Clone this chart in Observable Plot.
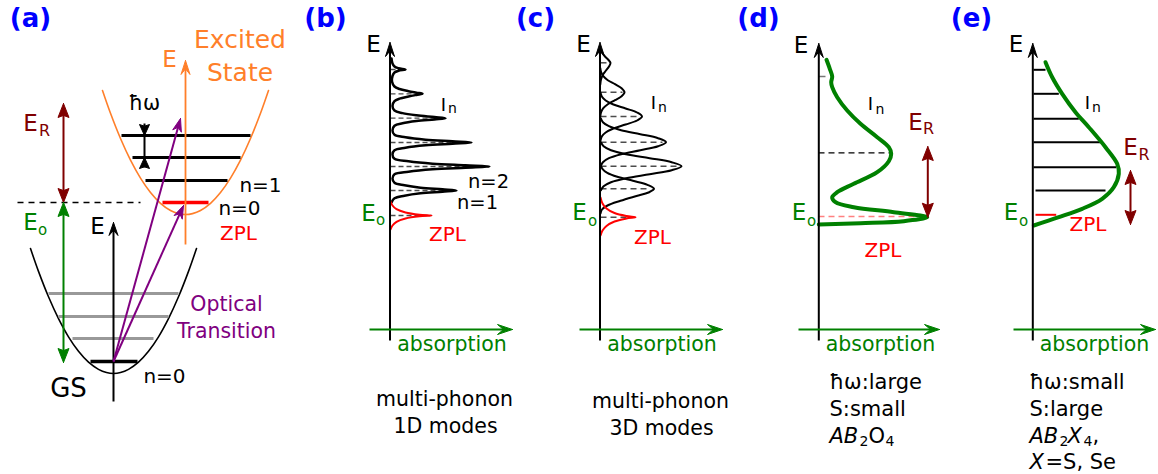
<!DOCTYPE html>
<html><head><meta charset="utf-8">
<script src="https://cdn.jsdelivr.net/npm/d3@7"></script>
<script src="https://cdn.jsdelivr.net/npm/@observablehq/plot@0.6"></script>
<style>
html,body{margin:0;padding:0;background:#fff;}
#chart svg{display:block;}
</style></head><body><div id="chart"></div>
<script>
// ================= DATA (figure coordinates) =================
const panelLabels = ["(a)", "(b)", "(c)", "(d)", "(e)"];
const panelLabelX = [30, 325, 535, 758, 971];

// (a) configuration-coordinate diagram
const excitedParabola = [[102,90],[110,112.8],[120,138],[130,159.6],[140,177.6],[150,192],[160,202.8],[170,210],[178,213.1],[185,214],[192,213.1],[200,210],[210,202.8],[220,192],[230,177.6],[240,159.6],[250,138],[260,112.8],[268,90]];
const groundParabola = [[30,248],[38,270.9],[48,296.3],[58,318.1],[68,336.3],[78,350.8],[88,361.7],[98,368.9],[106,372.1],[113,373],[120,372.1],[128,368.9],[138,361.7],[148,350.8],[158,336.3],[168,318.1],[178,296.3],[188,270.9],[196,248]];
const excitedLevels = [[121,250,135],[132,240,157],[145,227,180]];      // [xStart, xEnd, energy]
const excitedZPL = [[162,208,202]];
const groundLevels = [[48,178,293],[58,168,316],[72,153,338]];
const groundN0 = [[90,137,361]];
const eoDashed = [[17,140,202]];

// (b) multi-phonon, 1D modes
const bCurve = [[391,58],[392,63],[394,66],[398,67.7],[405,69],[398,70.3],[394,72],[392,75.5],[391.5,81],
 [394,86],[399,88.5],[408,90.7],[416,92.2],[422,93.3],[416,94.4],[408,96],[399,98.2],[394,100.7],[392,105.5],
 [394,110],[402,112.6],[416,114.8],[434,116.5],[445,117.7],[434,118.9],[416,120.6],[402,122.8],[394,125.3],[392,130],
 [394,134.3],[405,136.8],[425,139.2],[452,140.8],[471,142],[452,143.2],[425,144.8],[405,147.2],[394,149.8],[392,154],
 [394,158.3],[408,160.8],[432,163.2],[465,164.8],[489,166],[465,167.2],[432,168.8],[408,171.2],[394,173.8],[392,178],
 [394,182.3],[404,184.8],[420,187.2],[442,188.8],[456,190],[442,191.2],[420,192.8],[404,195.2],[394,197.8],[391,202]];
const bZPL = [[390,201],[392,205],[396,208.7],[405,212],[419,214.2],[431,215],[419,215.8],[405,218],[396,221.3],[392,225],[390,229]];
const bPeakE = [69, 93.3, 117.7, 142, 166, 190, 215];
const bPeakI = [405, 422, 445, 471, 489, 456, 431];

// (c) multi-phonon, 3D modes (one broad lobe per phonon number)
const cLobes = [
 [[600,48],[601.5,52],[604.5,56],[608,59.5],[610,62.3],[608.5,66],[605.5,70],[602.5,74],[600.5,79],[599.8,84]],
 [[599.8,67.7],[600.6,71.7],[602.8,75.7],[607.3,79.7],[614.5,83.7],[621.1,87.7],[624,91.7],[621.1,95.7],[614.5,99.7],[607.3,103.7],[602.8,107.7],[600.6,111.7],[599.8,115.7]],
 [[600,92],[601.3,96],[605.2,100],[612.9,104],[625.1,108],[636.5,112],[641.5,116],[636.5,120],[625.1,124],[612.9,128],[605.2,132],[601.3,136],[600,140]],
 [[600.2,117.7],[602.4,121.7],[608.4,125.7],[620.6,129.7],[639.8,133.7],[657.6,137.7],[665.5,141.7],[657.6,145.7],[639.8,149.7],[620.6,153.7],[608.4,157.7],[602.4,161.7],[600.2,165.7]],
 [[600.4,141.7],[603.1,145.7],[610.5,149.7],[625.6,153.7],[649.2,157.7],[671.2,161.7],[681,165.7],[671.2,169.7],[649.2,173.7],[625.6,177.7],[610.5,181.7],[603.1,185.7],[600.4,189.7]],
 [[600.1,164.3],[601.9,168.3],[606.8,172.3],[616.8,176.3],[632.4,180.3],[647,184.3],[653.5,188.3],[648,192],[636,195.5],[620,200.3],[607,205],[601.5,209],[600,213]]
];
const cZPL = [[600,197],[602,203],[606,208],[614,212.5],[626,215.5],[635,216.7],[626,218],[614,221],[606,225.5],[602,230],[600,235]];
const cPeakE = [62.3, 91.7, 116, 141.7, 165.7, 188.3, 216.7];
const cPeakI = [610, 622, 638, 662, 678, 648, 627];

// (d) large ħω, small S
const dCurve = [[826,59.3],[829.3,68.3],[831.7,76],[830.7,81.7],[831.7,86.7],[836.7,96.7],[846.7,110],[860,123.3],[876.7,136.7],[888.3,146.7],[890.7,153.3],[888.3,160.7],[876.7,171.7],[853.3,183.3],[836.7,191.7],[831.7,196.7],[835,201.7],[853.3,206.7],[893.3,211.7],[926.7,216.7],[903.3,220.7],[860,222.7],[818.3,224]];

// (e) small ħω, large S
const eCurve = [[1045,61.7],[1051.7,76.7],[1061.7,93.3],[1075,111.7],[1088.3,126.7],[1105,146.7],[1116.7,163.3],[1118.3,173.3],[1113.3,186.7],[1101.7,198.3],[1081.7,208.3],[1058.3,216.7],[1033.3,225]];
const eLevels = [[1033,1045,69.3],[1033,1058.3,93.3],[1033,1078.3,118.3],[1033,1100,141.7],[1033,1115.7,166.7],[1035,1105,190]];
const eZPL = [[1035,1055.7,214.3]];

// arrows: start -> end, with heads at end (or both)
const arrows = [
 {x1:185,y1:244,x2:185,y2:60,c:"orange",sw:1.8,both:false,L:14,w:4.5,n:0.6},
 {x1:113,y1:401,x2:113,y2:222,c:"black",sw:2,both:false,L:13,w:4.5,n:0.6},
 {x1:63,y1:103,x2:63,y2:202,c:"darkred",sw:2,both:true,L:14,w:5.5,n:0.85},
 {x1:63,y1:202,x2:63,y2:362,c:"green",sw:2,both:true,L:14,w:5.5,n:0.85},
 {x1:144,y1:123,x2:144,y2:135,c:"black",sw:2,both:false,L:11,w:5,n:0.85},
 {x1:144,y1:167,x2:144,y2:157,c:"black",sw:2,both:false,L:11,w:5,n:0.85},
 {x1:113,y1:361,x2:180,y2:118,c:"purple",sw:2,both:false,L:13,w:4.5,n:0.7},
 {x1:113,y1:361,x2:183,y2:205,c:"purple",sw:2,both:false,L:13,w:4.5,n:0.7},
 {x1:389.5,y1:340,x2:389.5,y2:42,c:"black",sw:2,both:false,L:14,w:4.5,n:0.6},
 {x1:599.5,y1:340,x2:599.5,y2:42,c:"black",sw:2,both:false,L:14,w:4.5,n:0.6},
 {x1:818.3,y1:340,x2:818.3,y2:43,c:"black",sw:2,both:false,L:14,w:4.5,n:0.6},
 {x1:1032.3,y1:340,x2:1032.3,y2:43,c:"black",sw:2,both:false,L:14,w:4.5,n:0.6},
 {x1:369,y1:329,x2:512,y2:329,c:"green",sw:2,both:false,L:15,w:5,n:0.6},
 {x1:579,y1:329,x2:722,y2:329,c:"green",sw:2,both:false,L:15,w:5,n:0.6},
 {x1:798,y1:329,x2:939,y2:329,c:"green",sw:2,both:false,L:15,w:5,n:0.6},
 {x1:1013,y1:329,x2:1155,y2:329,c:"green",sw:2,both:false,L:15,w:5,n:0.6},
 {x1:927.3,y1:146,x2:927.3,y2:216.7,c:"darkred",sw:2,both:true,L:14,w:5.5,n:0.85},
 {x1:1130,y1:170,x2:1130,y2:224,c:"darkred",sw:2,both:true,L:14,w:5.5,n:0.85}
];
const hbarOmegaShaft = [[144,135,144,157]];

// text labels: [text, x, y, colour, size]
const labels = [
 ["E",169,59,"orange",23],["Excited",239.5,39,"orange",25],["State",239.5,72.5,"orange",25],
 ["ħω",144,103,"black",20.5],["n=1",260,185,"black",20],["n=0",239,208,"black",20],["ZPL",238,233,"red",20],
 ["E",30,123,"darkred",23],["R",44,130,"darkred",16],["E",30,222,"green",23],["o",42,229.5,"green",15],
 ["E",97,226,"black",23],["GS",68,388,"black",26],["n=0",164,376,"black",20],
 ["Optical",226,304,"purple",20.5],["Transition",226,331,"purple",20.5],
 ["E",373,44,"black",23],["I",443,104.5,"black",18],["n",452,108.5,"black",14],
 ["n=2",488,181.5,"black",19.5],["n=1",477,202,"black",19.5],
 ["E",368,213,"green",23],["o",380,219.5,"green",15],["ZPL",447,234,"red",20],
 ["absorption",451.5,344,"green",20.5],["multi-phonon",444,399,"black",20.5],["1D modes",445,425.5,"black",20.5],
 ["E",583,44,"black",23],["I",653,103,"black",18],["n",662,107.5,"black",14],
 ["E",579,212.5,"green",23],["o",592,220.5,"green",15],["ZPL",652,237,"red",20],
 ["absorption",661.5,344,"green",20.5],["multi-phonon",660,401,"black",20.5],["3D modes",661,428,"black",20.5],
 ["E",800.5,45,"black",23],["I",870,104,"black",18],["n",879.5,109,"black",14],
 ["E",915,122,"darkred",23],["R",928,128.5,"darkred",16],
 ["E",798.5,212,"green",23],["o",811,221,"green",15],["ZPL",882.5,250,"red",20],
 ["absorption",880,344,"green",20.5],
 ["E",1015.5,44.5,"black",23],["I",1087,102.5,"black",18],["n",1096,107.5,"black",14],
 ["E",1130,147,"darkred",23],["R",1143.5,154,"darkred",16],
 ["E",1010.5,212,"green",23],["o",1023,220.5,"green",15],["ZPL",1087.5,224,"red",20],
 ["absorption",1094,344,"green",20.5]
];
// notes under (d) and (e): [text, x, y, style, size]
const notes = [
 ["ħω:large",829,382,"normal",21],["S:small",829,408.5,"normal",21],
 ["AB",829,435.5,"italic",21],["2",859,441.5,"normal",14],["O",868,435.5,"normal",21],["4",885,441.5,"normal",14],
 ["ħω:small",1029,382,"normal",21],["S:large",1029,408.5,"normal",21],
 ["AB",1029,435.5,"italic",21],["2",1059,441.5,"normal",14],["X",1067,435.5,"italic",21],["4",1083,441.5,"normal",14],[",",1092,435.5,"normal",21],
 ["X",1029,462,"italic",21],["=S, Se",1045,462,"normal",21]
];

// ================= STYLE =================
const C = {black:"#000000", orange:"#ff7f2a", green:"#008000", darkred:"#800000", red:"#ff0000",
  purple:"#800080", gray:"#999999", dash:"#4d4d4d", pink:"#ff8080", blue:"#0000ff"};
const FONT = "'DejaVu Sans', sans-serif";

// ================= BUILD =================
function headPoly(tx, ty, fx, fy, L, w, n) {
  const dx = tx - fx, dy = ty - fy, len = Math.hypot(dx, dy), ux = dx/len, uy = dy/len, px = -uy, py = ux;
  const bx = tx - L*ux, by = ty - L*uy;
  return [[tx,ty],[bx+w*px,by+w*py],[tx-n*L*ux,ty-n*L*uy],[bx-w*px,by-w*py],[tx,ty]];
}
const shafts = [], heads = [];
arrows.forEach((a, i) => {
  const len = Math.hypot(a.x2-a.x1, a.y2-a.y1), ux = (a.x2-a.x1)/len, uy = (a.y2-a.y1)/len;
  const cut = a.n*a.L - 0.5;
  let sx1 = a.x1, sy1 = a.y1, sx2 = a.x2 - cut*ux, sy2 = a.y2 - cut*uy;
  heads.push({c: a.c, pts: headPoly(a.x2, a.y2, a.x1, a.y1, a.L, a.w, a.n)});
  if (a.both) {
    heads.push({c: a.c, pts: headPoly(a.x1, a.y1, a.x2, a.y2, a.L, a.w, a.n)});
    sx1 = a.x1 + cut*ux; sy1 = a.y1 + cut*uy;
  }
  shafts.push({x1:sx1, y1:sy1, x2:sx2, y2:sy2, c:C[a.c], sw:a.sw});
});

const levelMark = (rows, color, width, dash) => Plot.link(rows, {
  x1: d => d[0], x2: d => d[1], y1: d => d[2], y2: d => d[2],
  stroke: color, strokeWidth: width, strokeDasharray: dash
});
const curveMark = (pts, color, width) => Plot.line(pts, {
  x: d => d[0], y: d => d[1], stroke: color, strokeWidth: width, curve: "catmull-rom"
});
const peakRows = (E, I, x0) => E.map((e, i) => [x0, I[i], e]);

const marks = [
  // (a)
  curveMark(excitedParabola, C.orange, 1.6),
  curveMark(groundParabola, C.black, 1.6),
  levelMark(groundLevels, C.gray, 3),
  levelMark(excitedLevels, C.black, 3),
  levelMark(groundN0, C.black, 3.5),
  levelMark(excitedZPL, C.red, 3.5),
  levelMark(eoDashed, C.black, 1.5, "6,5"),
  Plot.link(hbarOmegaShaft, {x1: d=>d[0], y1: d=>d[1], x2: d=>d[2], y2: d=>d[3], stroke: C.black, strokeWidth: 2}),
  // (b)
  levelMark(peakRows(bPeakE, bPeakI, 390), C.dash, 1.3, "5,3"),
  curveMark(bCurve, C.black, 2.5),
  curveMark(bZPL, C.red, 2),
  // (c)
  levelMark(peakRows(cPeakE, cPeakI, 600), C.dash, 1.5, "6,4"),
  ...cLobes.map(l => curveMark(l, C.black, 2)),
  curveMark(cZPL, C.red, 2),
  // (d)
  levelMark([[818,890,152.3]], C.black, 1.2, "6,4"),
  levelMark([[818,925,216]], C.pink, 1.5, "6,4"),
  levelMark([[818,825,76]], "#777777", 1.5),
  curveMark(dCurve, C.green, 4),
  // (e)
  levelMark(eLevels, C.black, 2),
  levelMark(eZPL, C.red, 2),
  curveMark(eCurve, C.green, 4),
  // arrows
  Plot.link(shafts, {x1:"x1", y1:"y1", x2:"x2", y2:"y2", stroke:"c", strokeWidth:"sw"}),
  ...heads.map(h => Plot.line(h.pts, {x: d=>d[0], y: d=>d[1], fill: C[h.c], stroke: C[h.c], strokeWidth: 1, curve: "linear"})),
  // texts
  Plot.text(labels, {x: d=>d[1], y: d=>d[2], text: d=>d[0], fill: d=>C[d[3]], fontSize: d=>d[4], fontFamily: FONT, textAnchor: "middle"}),
  Plot.text(notes.filter(d=>d[3]==="normal"), {x: d=>d[1], y: d=>d[2], text: d=>d[0], fill: C.black, fontSize: d=>d[4], fontFamily: FONT, textAnchor: "start"}),
  Plot.text(notes.filter(d=>d[3]==="italic"), {x: d=>d[1], y: d=>d[2], text: d=>d[0], fill: C.black, fontSize: d=>d[4], fontFamily: FONT, fontStyle: "italic", textAnchor: "start"}),
  Plot.text(panelLabels, {x: (d,i)=>panelLabelX[i], y: () => 18, text: d=>d, fill: C.blue, fontSize: 26, fontWeight: "bold", fontFamily: FONT, textAnchor: "middle"})
];

const chart = Plot.plot({
  width: 1158, height: 474, margin: 0,
  x: {domain: [0, 1158], range: [0, 1158], axis: null},
  y: {domain: [0, 474], range: [0, 474], axis: null},
  color: {type: "identity"},
  style: {fontFamily: FONT, background: "#ffffff"},
  marks
});
document.getElementById("chart").appendChild(chart);
</script></body></html>
